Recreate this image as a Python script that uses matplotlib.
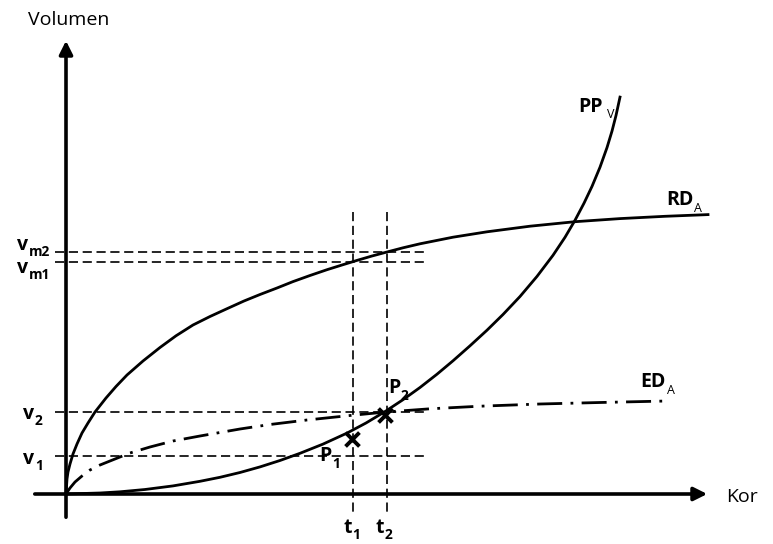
import matplotlib.pyplot as plt
import numpy as np

# curves in picture coordinates (x to the right, y downwards)
rd_x = [66, 67, 68, 70, 73, 77, 82, 88, 95, 106, 116, 127, 143, 160, 176, 193, 210, 227, 244, 260,
        277, 293, 310, 327, 342, 357, 372, 387, 403, 420, 453, 487, 530, 575, 620, 665, 708]
rd_y = [494, 479, 472, 464, 454, 444, 433, 423, 412, 398, 386.5, 375, 361, 347.5, 335.8, 325, 316.5, 308.7, 301, 294.5,
        288, 281.6, 275.5, 269.7, 265, 260.4, 256, 252, 247.8, 243.8, 237.2, 231.8, 226.2, 221.7, 218.6, 216.3, 214.6]

pp_x = [66, 100, 120, 145, 173, 200, 220, 240, 260, 280, 300, 323, 347, 366, 385, 403, 420, 437, 453,
        470, 487, 503, 520, 537, 553, 565, 575, 584, 592, 600, 607, 612, 616, 620]
pp_y = [494, 493, 491.8, 489.5, 485.9, 481.3, 477.3, 472.5, 466.9, 460.5, 453.3, 444.1, 433.1, 423, 411.6,
        399.7, 387.5, 374.2, 360.8, 345.8, 330.2, 314.5, 296.5, 276.4, 255.3, 237.3, 220.3, 203.2, 186.4,
        167.2, 147.6, 131.1, 115.5, 97.1]

ed_x = [66, 70, 75, 82, 90, 100, 115, 130, 150, 173, 200, 240, 270, 307, 350, 386, 430, 480, 540, 600, 667]
ed_y = [494, 488, 482, 476, 470, 465, 459, 453, 447, 441, 436, 429, 424.5, 420, 415.5, 412, 408.8, 406.2,
        404, 402.5, 401]

h_levels = [252, 262, 412, 456]
h_labels = ["m2", "m1", "2", "1"]
h_label_x = [17, 17, 23, 23]
h_label_y = [245, 268, 414, 459]
t_pos = [353, 387]
t_labels = ["1", "2"]
t_label_x = [343, 376]
points_x = [352, 385]
points_y = [439, 415]

plt.rcParams["font.family"] = ["Open Sans", "DejaVu Sans"]

fig = plt.figure(figsize=(7.73, 5.44), dpi=100)
ax = fig.add_axes([0, 0, 1, 1])
ax.set_xlim(0, 773)
ax.set_ylim(544, 0)
ax.axis("off")

# dashed guide lines
for y in h_levels:
    ax.plot([55, 428], [y, y], color="black", lw=1.2, ls=(0, (5.5, 2.8)))
for x in t_pos:
    ax.plot([x, x], [212, 514], color="black", lw=1.2, ls=(0, (5.5, 2.8)))

# axes with arrows
ax.annotate("", xy=(66, 38), xytext=(66, 520),
            arrowprops=dict(arrowstyle="-|>", lw=2.6, color="black", mutation_scale=20))
ax.annotate("", xy=(710, 494), xytext=(32, 494),
            arrowprops=dict(arrowstyle="-|>", lw=2.6, color="black", mutation_scale=20))

# curves
ax.plot(rd_x, rd_y, color="black", lw=2.0, solid_joinstyle="round")
ax.plot(pp_x, pp_y, color="black", lw=2.0, solid_joinstyle="round")
ax.plot(ed_x, ed_y, color="black", lw=2.0, ls=(0, (9, 3, 1, 3)))

ax.scatter(points_x, points_y, marker="x", s=100, color="black", linewidths=2.8, zorder=5)

ax.text(28, 20, "Volumen", fontsize=14, va="center")
ax.text(726, 497, "Kor", fontsize=14, va="center")

for lab, x, y in zip(h_labels, h_label_x, h_label_y):
    ax.text(x, y, "v", fontsize=14, fontweight="bold", ha="left", va="center")
    ax.text(x + 12, y + 7, lab, fontsize=10, fontweight="bold", ha="left", va="center")

for lab, x in zip(t_labels, t_label_x):
    ax.text(x, 528, "t", fontsize=14, fontweight="bold", ha="left", va="center")
    ax.text(x + 9, 535, lab, fontsize=10, fontweight="bold", ha="left", va="center")

ax.text(319, 456, "P", fontsize=14, fontweight="bold", va="center")
ax.text(332, 464, "1", fontsize=10, fontweight="bold", va="center")
ax.text(388, 388, "P", fontsize=14, fontweight="bold", va="center")
ax.text(401, 396, "2", fontsize=10, fontweight="bold", va="center")

ax.text(578, 107, "PP", fontsize=14, fontweight="bold", va="center")
ax.text(607, 114, "V", fontsize=9, va="center")
ax.text(666, 200, "RD", fontsize=14, fontweight="bold", va="center")
ax.text(694, 208, "A", fontsize=9, va="center")
ax.text(640, 382, "ED", fontsize=14, fontweight="bold", va="center")
ax.text(667, 390, "A", fontsize=9, va="center")

fig.savefig("out.png", dpi=100)
